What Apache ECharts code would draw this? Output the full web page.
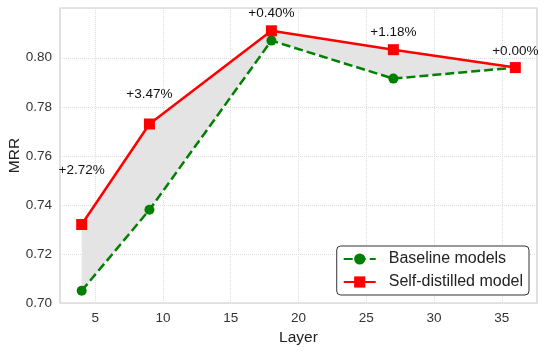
<!DOCTYPE html>
<html>
<head>
<meta charset="utf-8">
<script src="https://cdn.jsdelivr.net/npm/echarts@6/dist/echarts.min.js"></script>
<style>
  html, body { margin: 0; padding: 0; background: #fff; }
  #chart { width: 547px; height: 351px; }
</style>
</head>
<body>
<div id="chart"></div>
<script>
// 数据
const layers = [4, 9, 18, 27, 36]
const baselineMRR = [0.705, 0.738, 0.807, 0.7915, 0.796]
const selfDistilledMRR = [0.732, 0.773, 0.811, 0.8033, 0.796]
const gainLabels = ['+2.72%', '+3.47%', '+0.40%', '+1.18%', '+0.00%']
const xTicks = [5, 10, 15, 20, 25, 30, 35]

const FONT = '"Liberation Sans", Arial, sans-serif'
const chart = echarts.init(document.getElementById('chart'))

// 标注的纵向偏移
const labelLift = [-42, -17, -5, -5, -4]

const option = {
  animation: false,
  textStyle: { fontFamily: FONT },
  grid: {
    left: 60,
    right: 10,
    top: 8,
    bottom: 48,
    outerBoundsMode: 'none',
    containLabel: false,
    show: true,
    borderColor: '#cccccc',
    borderWidth: 1.2,
  },
  legend: {
    orient: 'vertical',
    right: 18,
    bottom: 56,
    backgroundColor: '#fff',
    borderColor: '#333',
    borderWidth: 1,
    borderRadius: 4,
    padding: [5, 6, 5, 6],
    itemWidth: 32,
    itemHeight: 14,
    itemGap: 7,
    textStyle: { fontSize: 16, color: '#222', padding: [0, 0, 0, 8] },
    data: ['Baseline models', 'Self-distilled model'],
  },
  xAxis: {
    type: 'value',
    min: 2.4,
    max: 37.6,
    name: 'Layer',
    nameLocation: 'middle',
    nameGap: 27,
    nameMoveOverlap: false,
    nameTextStyle: { fontSize: 15.5, color: '#222' },
    axisLine: { show: false },
    axisTick: { show: false, customValues: xTicks },
    axisLabel: { fontSize: 13.5, color: '#333', margin: 8, customValues: xTicks },
    splitLine: { show: true, lineStyle: { color: '#dddddd', type: 'dotted', width: 1 } },
  },
  yAxis: {
    type: 'value',
    min: 0.7,
    max: 0.8203,
    interval: 0.02,
    name: 'MRR',
    nameLocation: 'middle',
    nameGap: 37,
    nameMoveOverlap: false,
    nameTextStyle: { fontSize: 15.5, color: '#222' },
    axisLine: { show: false },
    axisTick: { show: false },
    axisLabel: {
      fontSize: 13.5,
      color: '#333',
      margin: 8,
      formatter: (v) => (v > 0.815 ? '' : v.toFixed(2)),
    },
    splitLine: { show: true, lineStyle: { color: '#dddddd', type: 'dotted', width: 1 } },
  },
  series: [
    // 两条线之间的灰色填充
    {
      name: 'gapFill',
      type: 'custom',
      silent: true,
      z: 1,
      data: layers.map((x, i) => [x, baselineMRR[i], selfDistilledMRR[i]]),
      encode: { x: 0, y: [1, 2] },
      renderItem(params, api) {
        if (params.dataIndex !== 0) return
        const upper = layers.map((x, i) => api.coord([x, selfDistilledMRR[i]]))
        const lower = layers.map((x, i) => api.coord([x, baselineMRR[i]])).reverse()
        return {
          type: 'polygon',
          shape: { points: upper.concat(lower) },
          style: { fill: '#e4e4e4' },
        }
      },
    },
    {
      name: 'Baseline models',
      type: 'line',
      symbol: 'circle',
      symbolSize: 10,
      color: '#008000',
      itemStyle: { color: '#008000' },
      lineStyle: { color: '#008000', width: 2.5, type: [9, 4] },
      data: layers.map((x, i) => [x, baselineMRR[i]]),
      z: 3,
    },
    {
      name: 'Self-distilled model',
      type: 'line',
      symbol: 'rect',
      symbolSize: 11,
      color: '#ff0000',
      itemStyle: { color: '#ff0000' },
      lineStyle: { color: '#ff0000', width: 2.5 },
      data: layers.map((x, i) => ({
        value: [x, selfDistilledMRR[i]],
        label: {
          show: true,
          position: 'top',
          distance: 0,
          offset: [0, labelLift[i]],
          formatter: gainLabels[i],
          fontSize: 13.5,
          color: '#111',
        },
      })),
      z: 4,
    },
  ],
}

chart.setOption(option)
</script>
</body>
</html>
